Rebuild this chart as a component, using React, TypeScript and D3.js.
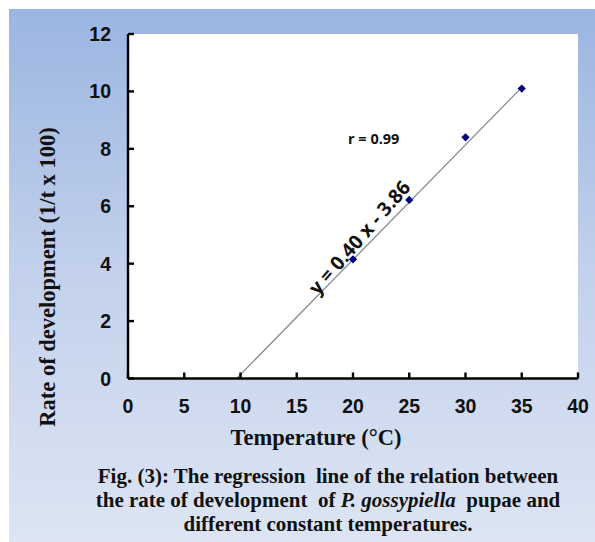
import React from "react";
import * as d3 from "d3";

const temps = [20, 25, 30, 35];
const rates = [4.15, 6.22, 8.4, 10.1];
const xTicks = [0, 5, 10, 15, 20, 25, 30, 35, 40];
const yTicks = [0, 2, 4, 6, 8, 10, 12];
const slope = 0.4;
const intercept = -3.86;
const eqLabel = "y = 0.40 x - 3.86";
const rLabel = "r = 0.99";
const xTitle = "Temperature (°C)";
const yTitle = "Rate of development (1/t x 100)";
const captionLines = [
  ["Fig. (3): The regression  line of the relation between"],
  ["the rate of development  of ", "P. gossypiella", "  pupae and"],
  ["different constant temperatures."],
];

const W = 595;
const H = 542;

export default function App() {
  const x = d3.scaleLinear().domain([0, 40]).range([128, 578]);
  const y = d3.scaleLinear().domain([0, 12]).range([378.5, 34]);
  const x0 = -intercept / slope;
  const x1 = 35;
  const line = d3.line<number>()
    .x((d) => x(d))
    .y((d) => y(slope * d + intercept));
  const eqX = 21.3;
  const ex = x(eqX), ey = y(slope * eqX + intercept);
  const diamond = d3.symbol().type(d3.symbolDiamond2).size(44)();
  const sans = "'Liberation Sans', Arial, sans-serif";
  const serif = "'Liberation Serif', 'Times New Roman', serif";
  const cal = "'Open Sans', Lato, sans-serif";
  return (
    <svg width={W} height={H} style={{ display: "block", position: "absolute", left: 0, top: 0 }}>
      <defs>
        <linearGradient id="bg" x1="0" y1="0" x2="0" y2="1">
          <stop offset="0" stopColor="#9bb5e2" />
          <stop offset="0.5" stopColor="#c3d1ec" />
          <stop offset="1" stopColor="#dde5f3" />
        </linearGradient>
      </defs>
      <rect x={0} y={0} width={W} height={H} fill="#ffffff" />
      <rect x={9} y={9} width={W - 9} height={H - 9} fill="url(#bg)" />
      <rect x={x(0)} y={y(12)} width={x(40) - x(0)} height={y(0) - y(12)} fill="#ffffff" />
      <path d={line([x0, x1]) || ""} stroke="#8a8a8a" strokeWidth={1.3} fill="none" />
      {temps.map((t, i) => (
        <path key={t} d={diamond || ""} transform={`translate(${x(t)},${y(rates[i])})`} fill="#00007a" />
      ))}
      <g stroke="#000" strokeWidth={2.4} fill="none">
        <line x1={x(0)} y1={y(12)} x2={x(0)} y2={y(0)} />
        <line x1={x(0)} y1={y(0)} x2={x(40)} y2={y(0)} />
        {yTicks.map((t) => (
          <line key={"y" + t} x1={x(0)} x2={x(0) + 6} y1={y(t)} y2={y(t)} />
        ))}
        {xTicks.map((t) => (
          <line key={"x" + t} x1={x(t)} x2={x(t)} y1={y(0)} y2={y(0) - 6} />
        ))}
      </g>
      <g fontFamily={sans} fontWeight="bold" fontSize={19.5} fill="#111">
        {yTicks.map((t) => (
          <text key={"yl" + t} x={111} y={y(t)} dy="0.36em" textAnchor="end">{t}</text>
        ))}
        {xTicks.map((t) => (
          <text key={"xl" + t} x={x(t)} y={413} textAnchor="middle">{t}</text>
        ))}
      </g>
      <text x={316} y={445} textAnchor="middle" fontFamily={serif} fontWeight="bold" fontSize={22.5} fill="#111">{xTitle}</text>
      <text transform={`translate(55,277) rotate(-90)`} textAnchor="middle" fontFamily={serif} fontWeight="bold" fontSize={22.5} fill="#111">{yTitle}</text>
      <text x={348} y={144} fontFamily={cal} fontWeight="bold" fontSize={14.5} fill="#111">{rLabel}</text>
      <text transform={`translate(${ex},${ey}) rotate(-49)`} y={-4} textAnchor="middle" fontFamily={cal} fontWeight="bold" fontSize={19.5} fill="#111">{eqLabel}</text>
      <g fontFamily={serif} fontWeight="bold" fontSize={21} fill="#111" textAnchor="middle" style={{ whiteSpace: "pre" }}>
        {captionLines.map((parts, i) => (
          <text key={i} x={328} y={483 + i * 24} xmlSpace="preserve">
            {parts.map((p, j) => (
              <tspan key={j} fontStyle={p.startsWith("P.") ? "italic" : "normal"}>{p}</tspan>
            ))}
          </text>
        ))}
      </g>
    </svg>
  );
}
